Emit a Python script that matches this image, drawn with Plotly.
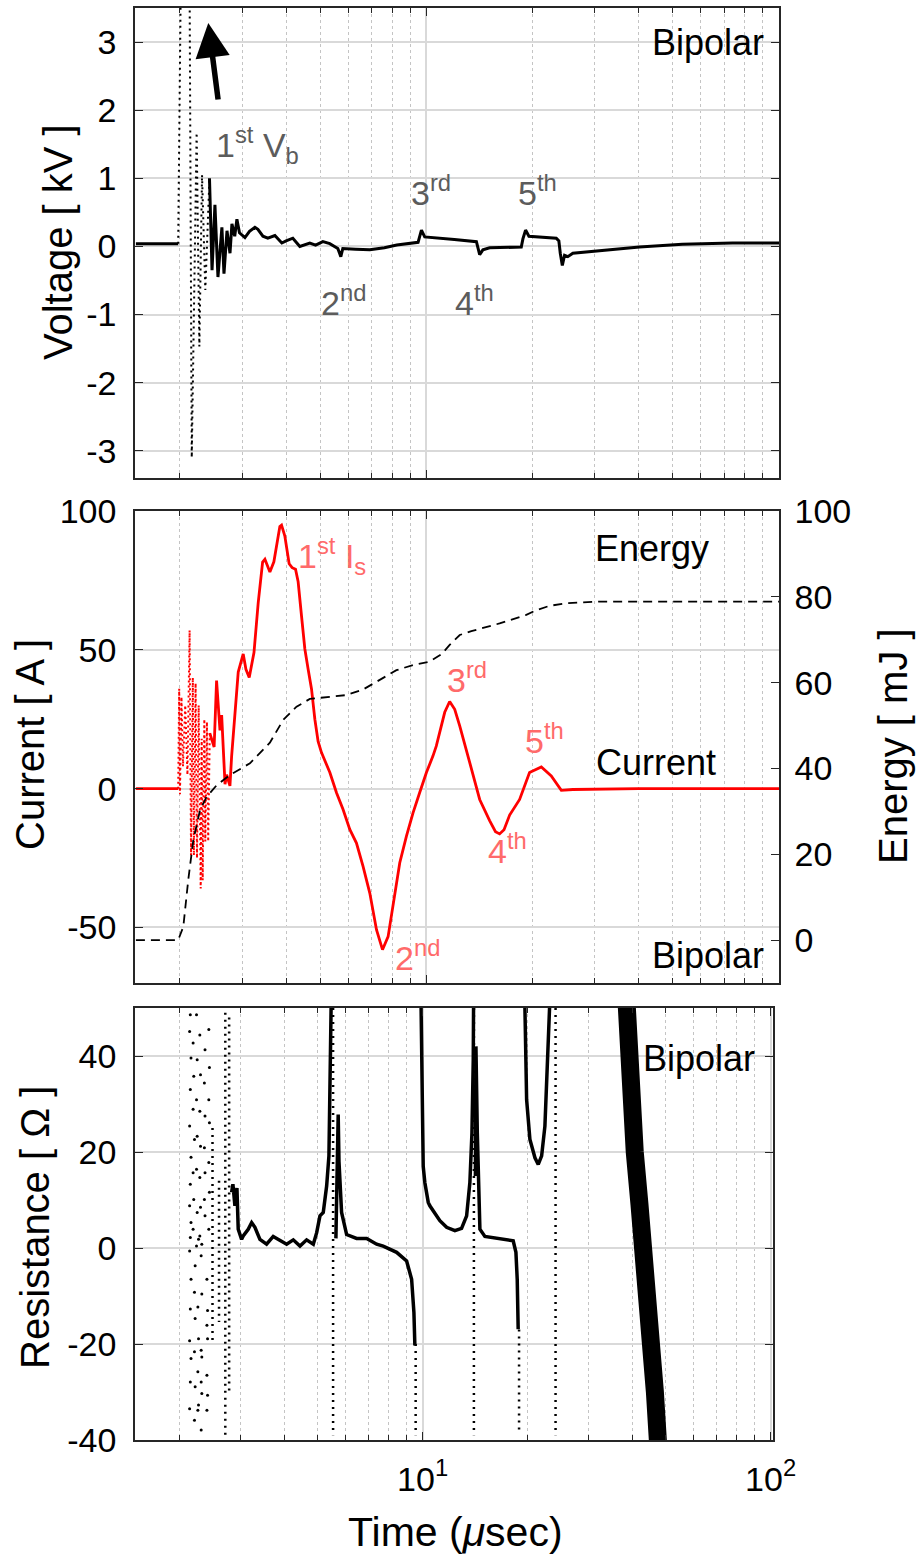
import plotly.graph_objects as go

W, H = 917, 1559
FONT = "Liberation Sans, Arial, Helvetica, sans-serif"

# ---------------- data ----------------
# Panel 1 : voltage [kV] vs time [usec]
volt_t = [1.5, 1.977, None, 2.425, 2.466, 2.513, 2.563, 2.63, 2.666, 2.719, 2.773, 2.808, 2.86,
          2.901, 2.95, 3.057, 3.15, 3.263, 3.327, 3.438, 3.55, 3.718, 3.89, 4.0, 4.18, 4.375,
          4.67, 4.85, 5.085, 5.32, 5.607, 5.718, 5.793, 6.3, 6.91, 7.6, 8.24, 9.47, 9.68, 9.89,
          10.5, 12.0, 13.86, 14.16, 14.46, 15.11, 18.58, 18.78, 19.11, 19.53, 23.35, 23.75,
          23.97, 24.29, 24.65, 25.18, 26.02, 28.4, 30.97, 40.2, 53.2, 73.8, 100]
volt_v = [0.04, 0.04, None, 1.0, -0.35, 0.61, -0.45, 0.28, -0.4, 0.23, -0.1, 0.33, 0.15,
          0.4, 0.2, 0.13, 0.22, 0.28, 0.25, 0.15, 0.12, 0.16, 0.05, 0.08, 0.12, 0.0,
          0.05, 0.02, 0.07, 0.04, -0.03, -0.15, -0.03, -0.04, -0.05, -0.02, 0.02, 0.06, 0.24, 0.14,
          0.13, 0.1, 0.07, -0.12, -0.05, -0.02, -0.01, 0.11, 0.24, 0.15, 0.12, 0.08,
          -0.1, -0.28, -0.13, -0.15, -0.1, -0.08, -0.06, -0.01, 0.03, 0.05, 0.05]
volt_fast_t = [1.977, 2.01, 2.13, 2.16, 2.23, 2.27, 2.31, 2.36, 2.425]
volt_fast_v = [0.04, 3.8, 3.8, -3.1, 1.67, -1.47, 1.05, -0.64, 1.0]

# Panel 2 : current [A] and energy [mJ]
cur_fast_t = [1.977, 1.99, 2.0, 2.02, 2.04, 2.07, 2.1, 2.13, 2.15, 2.175, 2.19, 2.215, 2.235,
              2.26, 2.29, 2.305, 2.32, 2.345, 2.36, 2.385, 2.405, 2.43]
cur_fast_i = [0, 36, -2, 33, 8, 30, 5, 57, -24, 40, -24, 38, -25,
              30, -36, 18, -33, 25, -19, 24, -19, 20]
cur_t = [1.5, 1.977, None, 2.43, 2.5, 2.54, 2.597, 2.626, 2.671, 2.684, 2.713, 2.772, 2.803,
         2.863, 2.926, 3.023, 3.077, 3.144, 3.243, 3.334, 3.431, 3.483, 3.598, 3.693, 3.84,
         3.883, 3.967, 4.08, 4.161, 4.254, 4.327, 4.425, 4.521, 4.619, 4.722, 4.826, 4.93,
         5.04, 5.323, 5.559, 5.803, 6.063, 6.333, 6.612, 6.909, 7.218, 7.507, 7.786, 8.045,
         8.403, 8.777, 9.163, 9.572, 10.0, 10.44, 10.67, 11.27, 11.64, 12.03, 12.43, 13.27,
         14.16, 15.11, 15.7, 16.13, 16.6, 17.22, 18.38, 19.61, 21.18, 22.6, 24.13, 26.02,
         40.0, 100]
cur_i = [0, 0, None, 20, 15, 38.9, 21, 26.5, 10.6, 1.6, 5, 1, 11.8,
         26, 42, 48.5, 43, 40, 49, 67, 81.6, 82.6, 78, 81.7, 94.4,
         94.9, 91, 81, 79.6, 79, 74.5, 62, 50.3, 43, 35.9, 25, 17,
         13, 5.8, -1.5, -7.5, -14.7, -19.6, -28, -37.6, -50.8, -58, -53.3, -42.4,
         -26.7, -17.1, -8.7, -1.4, 5.8, 11.8, 15.4, 27.5, 31.4, 28.6, 22.6, 9.4,
         -3.9, -11.5, -15.5, -16.3, -14.8, -9.5, -3.9, 5.8, 7.8, 4.6, -0.6, -0.3,
         0, 0]
en_t = [1.5, 1.977, 2.044, 2.111, 2.182, 2.28, 2.381, 2.542, 2.773, 3.159, 3.598, 3.924,
        4.282, 4.671, 5.323, 5.934, 6.612, 7.375, 8.222, 9.163, 10.21, 11.03, 11.64, 12.43,
        13.41, 16.13, 19.2, 20.5, 22.35, 24.93, 30.95, 100]
en_e = [0, 0, 3.1, 14, 23.3, 30.3, 33.4, 36.1, 38.5, 41.2, 46, 51.3,
        54.4, 56.2, 56.7, 57.1, 58.4, 60.7, 62.9, 64.1, 64.9, 66.6, 68.8, 71.1,
        72, 73.8, 75.8, 76.9, 77.9, 78.5, 78.9, 78.9]

# Panel 3 : resistance [Ohm]
res_t = [2.826, 2.85, 2.888, 2.927, 2.952, 3.019, 3.051, 3.154, 3.226, 3.297, 3.408, 3.562,
         3.721, 3.89, 4.067, 4.249, 4.442, 4.642, 4.851, 4.961, 5.07, 5.182, 5.299, 5.38,
         5.416, 5.452, 5.47, None,
         5.634, 5.69, 5.72, 5.75, 5.85, 6.048, 6.46, 6.905, 7.377, 7.705, 8.054, 8.42, 8.995,
         9.298, 9.44, 9.5, None,
         9.9, 9.974, 10.04, 10.15, 10.38, 10.49, 10.97, 11.21, 11.72, 12.38, 12.94, 13.38,
         13.67, 13.86, 13.98, 14.02, None,
         14.18, 14.23, 14.36, 14.61, 15.1, 16.68, 18.21, 18.54, 18.7, 18.82, None,
         19.62, 19.9, 20.34, 21.03, 21.49, 21.98, 22.46, 22.87, 23.22]
res_r = [11.6, 13.3, 8.8, 12.5, 3.9, 1.8, 2.5, 3.9, 5.3, 4.3, 1.8, 0.8,
         2.4, 1.5, 0.8, 1.7, 0.4, 1.7, 0.8, 3.2, 6.7, 7.4, 12.9, 19.2,
         30.9, 44.8, 55, None,
         2, 15, 27.8, 18, 7.4, 2.8, 2.0, 2.0, 0.8, 0.4, -0.3, -0.9, -2.7,
         -6.5, -13.4, -20.3, None,
         50, 34.4, 17, 13.6, 9.5, 8.8, 6.7, 5.7, 4.3, 3.6, 4.1, 6.7,
         13.6, 24, 39.2, 55, None,
         15, 42, 24, 3.9, 2.4, 2.0, 1.5, -0.9, -6.5, -16.9, None,
         55, 30.9, 22.6, 18.8, 17.4, 19.2, 25.4, 37.8, 52]
res_col_t = [2.49, 2.49, None, 2.6, 2.6, None, 2.71, 2.71, None, 2.78, 2.78, None,
             5.53, 5.53, None, 9.55, 9.55, None, 14.04, 14.04, None, 18.93, 18.93, None,
             24.1, 24.1]
res_col_r = [25, -20, None, 14, -15.4, None, 49, -39, None, 48, -30, None,
             50, -39, None, -20, -39, None, 50, -39, None, -17, -38, None,
             50, -39]
res_dot_t = [2.15, 2.14, 2.16, 2.15, 2.14, 2.16, 2.15, 2.14, 2.16, 2.15, 2.14, 2.16, 2.15, 2.14, 2.16, 2.15, 2.14,
             2.19, 2.2, 2.19, 2.21, 2.19, 2.2, 2.19, 2.22, 2.21, 2.22, 2.21, 2.22, 2.21,
             2.24, 2.25, 2.24, 2.25, 2.24, 2.25, 2.24, 2.27, 2.26, 2.27, 2.26, 2.27, 2.26,
             2.29, 2.3, 2.29, 2.3, 2.29, 2.3, 2.29, 2.32, 2.31, 2.32, 2.31, 2.32, 2.31, 2.32, 2.31,
             2.37, 2.36, 2.37, 2.36, 2.37, 2.36, 2.37,
             2.43, 2.44, 2.43, 2.44, 2.43, 2.44, 2.43, 2.4, 2.41, 2.4, 2.41, 2.4, 2.41, 2.4]
res_dot_r = [48.6, 45.1, 39.6, 33, 25.4, 18.9, 13.3, 8.8, 5.3, 2.2, -0.6, -6.5, -12.7, -19.3, -23, -27.9, -33.5,
             42.7, 35.8, 28.9, 22.6, 15.7, 10.1, 3.9, -3.7, -9.2, -14.7, -21.6, -28.9, -35.9,
             48.6, 39.2, 30.9, 23.3, 16.4, 7.4, 0.4, 1.8, -12.3, -18.9, -25.8, -32.7, -33.8,
             44.4, 36.1, 28.5, 21.2, 14.7, 8.5, 2.5, 0.8, -1.6, -9.6, -21.3, -22.7, -27.9, -30.3, -37.9,
             41.3, 34.4, 27.5, 20.9, 15.7, 10.1, 6.7,
             45.5, 37.6, 30.9, 26.1, 17.8, 11.6, 3.9, -6.5, -13, -16.1, -18.9, -26.5, -30.7, -33.8]
res_band_t = [38.5, 39.0, 40.0, 40.7, 42.0, 43.2, 44.5, 45.5, 46.5, 47.6]
res_band_r = [52, 40, 28, 20, 9, 0, -10, -20, -30, -42]

# tick labels
volt_ticks = [-3, -2, -1, 0, 1, 2, 3]
volt_ticktext = ["-3", "-2", "-1", "0", "1", "2", "3"]
cur_ticks = [-50, 0, 50, 100]
cur_ticktext = ["-50", "0", "50", "100"]
en_ticks = [0, 20, 40, 60, 80, 100]
en_ticktext = ["0", "20", "40", "60", "80", "100"]
res_ticks = [-40, -20, 0, 20, 40]
res_ticktext = ["-40", "-20", "0", "20", "40"]
time_ticks = [10, 100]
time_ticktext = ["10<sup>1</sup>", "10<sup>2</sup>"]
time_minor = [2, 3, 4, 5, 6, 7, 8, 9, 20, 30, 40, 50, 60, 70, 80, 90]

# ---------------- figure ----------------
def px(x):
    return x / W

def py(y):
    return 1 - y / H

fig = go.Figure()
blk = "black"
red = "#ff0000"

fig.add_trace(go.Scatter(x=volt_fast_t, y=volt_fast_v, mode="lines",
                         line=dict(color=blk, width=2, dash="2px,4px"), xaxis="x", yaxis="y"))
fig.add_trace(go.Scatter(x=volt_t, y=volt_v, mode="lines", connectgaps=False,
                         line=dict(color=blk, width=3), xaxis="x", yaxis="y"))

fig.add_trace(go.Scatter(x=cur_fast_t, y=cur_fast_i, mode="lines",
                         line=dict(color=red, width=2, dash="2px,3px"), xaxis="x2", yaxis="y2"))
fig.add_trace(go.Scatter(x=cur_t, y=cur_i, mode="lines", connectgaps=False,
                         line=dict(color=red, width=2.8), xaxis="x2", yaxis="y2"))
fig.add_trace(go.Scatter(x=en_t, y=en_e, mode="lines",
                         line=dict(color=blk, width=1.8, dash="9px,6px"), xaxis="x2", yaxis="y4"))

fig.add_trace(go.Scatter(x=res_dot_t, y=res_dot_r, mode="markers",
                         marker=dict(color=blk, size=3), xaxis="x3", yaxis="y3"))
fig.add_trace(go.Scatter(x=res_col_t, y=res_col_r, mode="lines", connectgaps=False,
                         line=dict(color=blk, width=2.5, dash="2px,5px"), xaxis="x3", yaxis="y3"))
fig.add_trace(go.Scatter(x=res_t, y=res_r, mode="lines", connectgaps=False,
                         line=dict(color=blk, width=3.5), xaxis="x3", yaxis="y3"))
fig.add_trace(go.Scatter(x=res_band_t, y=res_band_r, mode="lines",
                         line=dict(color=blk, width=18), xaxis="x3", yaxis="y3"))

axis_line = dict(showline=True, linecolor="#262626", linewidth=1.5)
tickfont = dict(family=FONT, size=34, color="black")
minor = dict(tickvals=time_minor, ticks="inside", ticklen=5, tickcolor="#262626",
             showgrid=True, gridcolor="#c4c4c4", griddash="dot", gridwidth=1)

def xax(domain, anchor, rng, labels):
    return dict(domain=domain, anchor=anchor, type="log", range=rng,
                tickvals=time_ticks, ticktext=time_ticktext, showticklabels=labels,
                ticks="inside", ticklen=8, tickcolor="#262626", mirror="ticks",
                showgrid=True, gridcolor="#d9d9d9", gridwidth=1.5, zeroline=False,
                tickfont=tickfont, ticklabelstandoff=8, minor=minor, automargin=False,
                **axis_line)

def yax(domain, anchor, rng, tv, tt, mirror="ticks", grid=True):
    return dict(domain=domain, anchor=anchor, range=rng, tickvals=tv, ticktext=tt,
                ticks="inside", ticklen=8, tickcolor="#262626", mirror=mirror,
                showgrid=grid, gridcolor="#d9d9d9", gridwidth=1.5, zeroline=False,
                tickfont=tickfont, ticklabelstandoff=10, automargin=False, **axis_line)

xd12 = [px(135), px(779)]
xd3 = [px(135), px(772.7)]
fig.update_layout(
    width=W, height=H, autosize=False,
    margin=dict(l=0, r=0, t=0, b=0, pad=0, autoexpand=False),
    paper_bgcolor="white", plot_bgcolor="white", showlegend=False,
    font=dict(family=FONT, color="black"),
    xaxis=xax(xd12, "y", [0.1735, 2.0], False),
    xaxis2=xax(xd12, "y2", [0.1735, 2.0], False),
    xaxis3=xax(xd3, "y3", [0.1735, 2.006], True),
    yaxis=yax([py(478), py(8)], "x", [-3.4, 3.5], volt_ticks, volt_ticktext),
    yaxis2=yax([py(983), py(511)], "x2", [-70, 100], cur_ticks, cur_ticktext, mirror=False),
    yaxis4=dict(overlaying="y2", side="right", anchor="x2", range=[-10, 100],
                tickvals=en_ticks, ticktext=en_ticktext, ticks="inside", ticklen=8,
                tickcolor="#262626", showgrid=False, zeroline=False, tickfont=tickfont,
                ticklabelstandoff=7, automargin=False, **axis_line),
    yaxis3=yax([py(1440), py(1008)], "x3", [-40, 50], res_ticks, res_ticktext),
)

gray = "#5c5c5c"
salmon = "#ff6a6a"

def note(text, x, y, size=34, color="black", xanchor="center", angle=0):
    fig.add_annotation(text=text, x=px(x), y=py(y), xref="paper", yref="paper",
                       showarrow=False, xanchor=xanchor, yanchor="middle", textangle=angle,
                       font=dict(family=FONT, size=size, color=color))

# axis titles
note("Voltage [ kV ]", 58, 242, size=40, angle=-90)
note("Current [ A ]", 30, 745, size=40, angle=-90)
note("Resistance [ Ω ]", 35, 1228, size=40, angle=-90)
note("Energy [ mJ ]", 893, 746, size=40, angle=-90)
note("Time (<i>μ</i>sec)", 455, 1532, size=41)

# panel texts
note("Bipolar", 766, 43, size=36, xanchor="right")
note("Bipolar", 766, 955, size=36, xanchor="right")
note("Bipolar", 757, 1058, size=36, xanchor="right")
note("Energy", 652, 548, size=36)
note("Current", 656, 762, size=36)

note("1<sup>st</sup> V<sub>b</sub>", 257, 145, color=gray)
note("2<sup>nd</sup>", 343, 301, color=gray)
note("3<sup>rd</sup>", 431, 191, color=gray)
note("4<sup>th</sup>", 474, 301, color=gray)
note("5<sup>th</sup>", 537, 191, color=gray)

note("1<sup>st</sup> I<sub>s</sub>", 332, 556, color=salmon)
note("2<sup>nd</sup>", 417, 955, color=salmon)
note("3<sup>rd</sup>", 467, 677, color=salmon)
note("4<sup>th</sup>", 507, 848, color=salmon)
note("5<sup>th</sup>", 544, 738, color=salmon)

# arrow pointing at the clipped breakdown peak
fig.add_annotation(x=0.3813, y=3.28, xref="x", yref="y", ax=10, ay=78, text="",
                   showarrow=True, arrowhead=2, arrowsize=1.25, arrowwidth=5.5,
                   arrowcolor="black")

fig.write_html("out.html")
